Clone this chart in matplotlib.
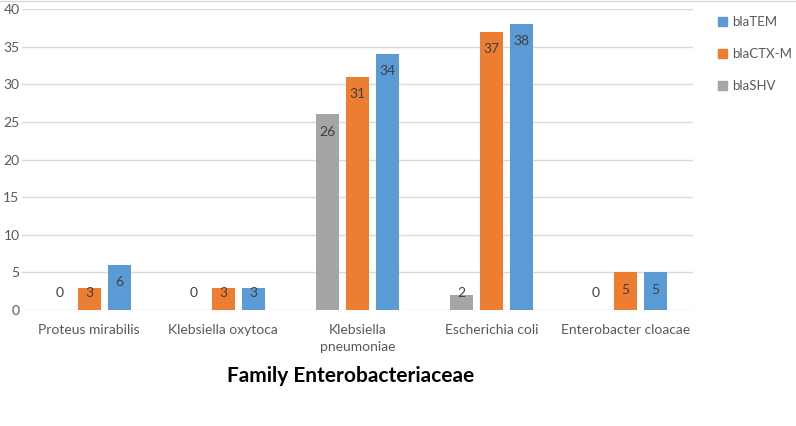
import matplotlib
matplotlib.use("Agg")
import matplotlib.pyplot as plt
from matplotlib.lines import Line2D
from matplotlib.patches import Patch
import numpy as np

# data
categories = ["Proteus mirabilis", "Klebsiella oxytoca", "Klebsiella\npneumoniae",
              "Escherichia coli", "Enterobacter cloacae"]
bla_shv = [0, 0, 26, 2, 0]
bla_ctx_m = [3, 3, 31, 37, 5]
bla_tem = [6, 3, 34, 38, 5]

plt.rcParams['font.family'] = ['Lato', 'DejaVu Sans']

fig = plt.figure(figsize=(7.96, 4.26), dpi=100)
ax = fig.add_axes([0.028, 0.272, 0.842, 0.707])

x = np.arange(len(categories))
w = 0.172
step = 0.223
series = [(bla_shv, "#A5A5A5", "blaSHV", -step),
          (bla_ctx_m, "#ED7D31", "blaCTX-M", 0),
          (bla_tem, "#5B9BD5", "blaTEM", step)]

for vals, col, name, off in series:
    ax.bar(x + off, vals, width=w, color=col, zorder=3, label=name)
    for xi, v in zip(x + off, vals):
        ax.text(xi, max(v - 2.3, 2.3), str(v), ha='center', va='center',
                fontsize=10, color='#404040', zorder=4)

ax.set_xlim(-0.5, 4.5)
ax.set_ylim(0, 40)
ax.set_yticks(range(0, 41, 5))
ax.grid(axis='y', color='#d9d9d9', linewidth=1, zorder=0)
for s in ax.spines.values():
    s.set_visible(False)
ax.tick_params(axis='both', length=0, labelsize=10, labelcolor='#595959')
ax.tick_params(axis='y', pad=2)
ax.tick_params(axis='x', pad=10)
ax.set_xticks(x)
ax.set_xticklabels(categories, linespacing=1.5)

handles = [Patch(color="#5B9BD5", label="blaTEM"),
           Patch(color="#ED7D31", label="blaCTX-M"),
           Patch(color="#A5A5A5", label="blaSHV")]
leg = fig.legend(handles=handles, loc='upper left', bbox_to_anchor=(0.902, 0.962),
                 frameon=False, fontsize=9.5, handlelength=0.7, handleheight=0.7,
                 handletextpad=0.35, labelspacing=1.5, borderpad=0,
                 borderaxespad=0, labelcolor='#595959')

fig.text(0.441, 0.118, "Family Enterobacteriaceae", ha='center', va='center',
         fontsize=15, fontweight='bold', color='black')

fig.add_artist(Line2D([0, 1], [0.998, 0.998], color='#d9d9d9', linewidth=1))

fig.savefig("out.png", dpi=100)
